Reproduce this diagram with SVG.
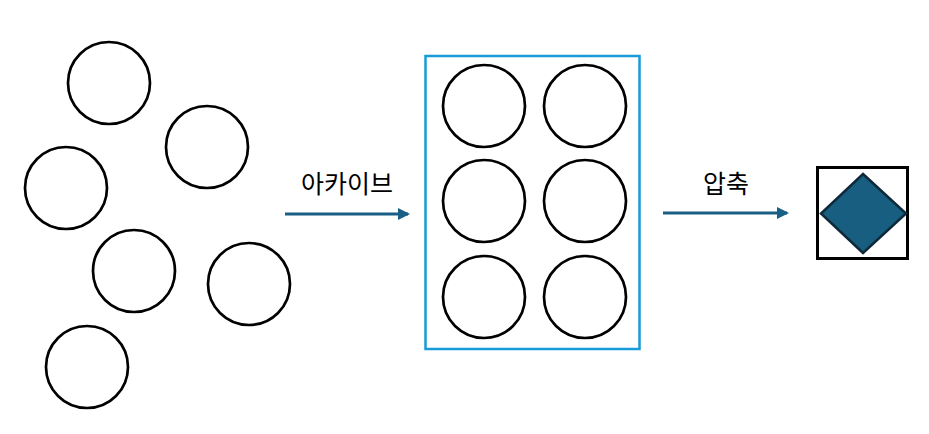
<svg xmlns="http://www.w3.org/2000/svg" width="929" height="434" viewBox="0 0 929 434">
<style>
.c{fill:#fff;stroke:#000;stroke-width:2.7}
.lbl{font-family:"Noto Sans CJK KR","Liberation Sans",sans-serif;font-size:25px;fill:#000;text-anchor:middle}
.ar{stroke:#1A5F85;stroke-width:3;fill:none}
</style>
<defs>
<marker id="ah" markerWidth="12" markerHeight="12" refX="10" refY="6" orient="auto" markerUnits="userSpaceOnUse" viewBox="0 0 12 12">
<path d="M0,0 L12,6 L0,12 z" fill="#1A5F85"/>
</marker>
</defs>
<g id="loose">
<circle class="c" cx="109" cy="83" r="41"/>
<circle class="c" cx="207" cy="147" r="41"/>
<circle class="c" cx="66" cy="188" r="41"/>
<circle class="c" cx="134" cy="271" r="41"/>
<circle class="c" cx="249" cy="284" r="41"/>
<circle class="c" cx="87" cy="367" r="41"/>
</g>
<g id="archive">
<rect x="425.5" y="56" width="214" height="293" fill="#fff" stroke="#169CD8" stroke-width="2.5"/>
<circle class="c" cx="484" cy="106" r="41"/>
<circle class="c" cx="585" cy="106" r="41"/>
<circle class="c" cx="484" cy="201" r="41"/>
<circle class="c" cx="585" cy="201" r="41"/>
<circle class="c" cx="484" cy="297" r="41"/>
<circle class="c" cx="585" cy="297" r="41"/>
</g>
<g id="compressed">
<rect x="817.5" y="167.5" width="90" height="91" fill="#fff" stroke="#000" stroke-width="3"/>
<polygon points="863,174 906,213.5 863,253 821,213.5" fill="#185E80" stroke="#0E2A3A" stroke-width="2.5"/>
</g>
<g id="connectors">
<line class="ar" x1="285" y1="214" x2="408" y2="214" marker-end="url(#ah)"/>
<line class="ar" x1="663" y1="213" x2="787" y2="213" marker-end="url(#ah)"/>
</g>
<g id="labels">
<text class="lbl" x="347" y="193">아카이브</text>
<text class="lbl" x="726" y="193">압축</text>
</g>
</svg>
